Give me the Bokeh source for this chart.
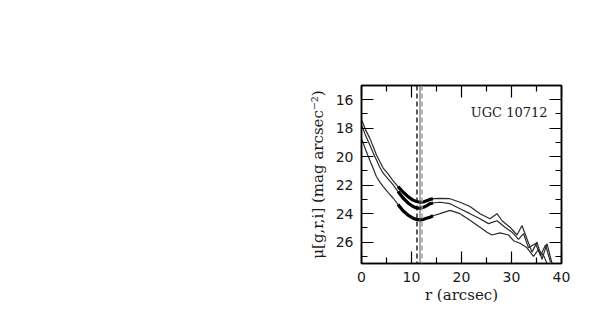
from bokeh.plotting import figure
from bokeh.models import LinearAxis, Range1d, FixedTicker, Span, Label
from bokeh.embed import file_html
from bokeh.resources import INLINE

# ---- data ----
r_top = [0.1, 0.8, 1.6, 2.3, 2.95, 3.6, 4.3, 5.3, 6.3, 7.3, 8.3, 9.3, 10.3, 11.0, 11.7, 12.4, 13.0, 13.7, 14.3,
         15.7, 17.7, 19.7, 21.7, 23.7, 25.7, 27.1, 28.1, 29.7, 31.1, 32.1, 33.1, 34.1, 35.1, 36.1, 37.1, 38.1]
mu_top = [17.48, 18.1, 18.66, 19.25, 19.84, 20.3, 20.78, 21.2, 21.68, 22.1, 22.48, 22.8, 23.05, 23.15, 23.2, 23.18, 23.1, 23.0, 22.95,
          22.92, 22.95, 23.2, 23.5, 24.0, 24.36, 24.0, 24.5, 24.95, 25.5, 24.83, 25.78, 26.7, 26.0, 27.2, 26.1, 27.5]

r_mid = [0.1, 0.8, 1.6, 2.3, 2.95, 3.6, 4.3, 5.3, 6.3, 7.3, 8.3, 9.3, 10.3, 11.0, 11.7, 12.4, 13.0, 13.7, 14.3,
         15.7, 17.7, 19.7, 21.7, 23.7, 25.4, 27.1, 28.7, 30.1, 31.4, 32.4, 33.4, 34.8, 35.8, 36.8, 37.8]
mu_mid = [17.83, 18.5, 19.13, 19.7, 20.19, 20.7, 21.14, 21.55, 21.96, 22.45, 22.9, 23.25, 23.5, 23.6, 23.62, 23.55, 23.45, 23.3, 23.25,
          23.2, 23.3, 23.65, 24.0, 24.36, 24.7, 24.5, 24.95, 25.3, 25.8, 25.4, 26.4, 26.1, 26.95, 26.2, 27.4]

r_bot = [0.1, 0.8, 1.6, 2.3, 2.95, 3.6, 4.3, 5.3, 6.3, 7.3, 8.3, 9.3, 10.3, 11.0, 11.7, 12.4, 13.0, 13.7, 14.3,
         15.7, 17.7, 19.7, 21.7, 23.7, 25.1, 26.1, 27.7, 29.4, 30.4, 31.8, 33.1, 34.4, 35.4, 36.5, 37.1]
mu_bot = [18.78, 19.5, 20.19, 20.8, 21.37, 21.75, 22.08, 22.5, 22.9, 23.35, 23.8, 24.1, 24.32, 24.4, 24.44, 24.4, 24.32, 24.25, 24.15,
          24.0, 23.77, 24.0, 24.47, 24.95, 25.3, 25.5, 25.35, 25.5, 25.9, 26.1, 26.4, 27.0, 26.5, 27.0, 27.5]

fit_range = (7.3, 14.3)
r_break_dashed = 11.1
r_break_solid = 11.7
r_break_gray = 12.1

x_ticks = [0, 10, 20, 30, 40]
x_minor = [5, 15, 25, 35]
y_ticks = [16, 18, 20, 22, 24, 26]
y_minor = [15, 17, 19, 21, 23, 25, 27]
galaxy = "UGC 10712"

# ---- figure ----
p = figure(width=590, height=310, output_backend="svg", toolbar_location=None,
           x_range=Range1d(0, 40), y_range=Range1d(27.5, 15.0),
           min_border_left=361, min_border_right=29, min_border_top=85, min_border_bottom=47)
p.grid.visible = False
p.background_fill_color = "white"
p.border_fill_color = "white"
p.outline_line_color = "black"
p.outline_line_width = 1.5

tick_font = "DejaVu Sans"
label_font = "DejaVu Serif"

def style(ax, labels=True):
    ax.major_tick_in = 12
    ax.major_tick_out = 0
    ax.minor_tick_in = 6
    ax.minor_tick_out = 0
    ax.axis_line_color = "black"
    ax.axis_line_width = 1.5
    ax.major_tick_line_color = "black"
    ax.minor_tick_line_color = "black"
    ax.major_tick_line_width = 1.2
    ax.minor_tick_line_width = 1.2
    ax.major_label_text_font = tick_font
    if labels:
        ax.major_label_text_font_size = "14px"
        ax.major_label_text_color = "#1a1a1a"
    else:
        ax.major_label_text_font_size = "1px"
        ax.major_label_text_color = None
    ax.major_label_standoff = 8
    ax.axis_label_text_font = label_font
    ax.axis_label_text_font_style = "normal"
    ax.axis_label_text_font_size = "15px"
    ax.axis_label_text_color = "#1a1a1a"

p.xaxis.ticker = FixedTicker(ticks=x_ticks, minor_ticks=x_minor)
p.yaxis.ticker = FixedTicker(ticks=y_ticks, minor_ticks=y_minor)
p.xaxis.axis_label = "r (arcsec)"
p.yaxis.axis_label = "\u03bc[g,r,i] (mag arcsec\u207b\u00b2)"
style(p.xaxis[0])
style(p.yaxis[0])
p.xaxis.axis_label_standoff = 1
p.yaxis.axis_label_standoff = 6

top_ax = LinearAxis(ticker=FixedTicker(ticks=x_ticks, minor_ticks=x_minor))
style(top_ax, labels=False)
p.add_layout(top_ax, "above")
right_ax = LinearAxis(ticker=FixedTicker(ticks=y_ticks, minor_ticks=y_minor))
style(right_ax, labels=False)
p.add_layout(right_ax, "right")

# vertical markers
p.add_layout(Span(location=r_break_dashed, dimension="height", line_color="black",
                  line_width=1.3, line_dash="5 3"))
p.add_layout(Span(location=r_break_solid, dimension="height", line_color="#555555",
                  line_width=1.0))
p.add_layout(Span(location=r_break_gray, dimension="height", line_color="#9a9a9a",
                  line_width=1.4, line_dash="5 3"))

# profiles
for rr, mm in [(r_top, mu_top), (r_mid, mu_mid), (r_bot, mu_bot)]:
    p.line(rr, mm, line_color="#2a2a2a", line_width=1.2)
    rs = [a for a in rr if fit_range[0] <= a <= fit_range[1]]
    ms = [b for a, b in zip(rr, mm) if fit_range[0] <= a <= fit_range[1]]
    p.line(rs, ms, line_color="black", line_width=3.2)

p.add_layout(Label(x=37.2, y=16.92, text=galaxy, text_align="right", text_baseline="middle",
                   text_font=label_font, text_font_size="13px", text_color="#1a1a1a"))

open("out.html", "w").write(file_html(p, INLINE))
